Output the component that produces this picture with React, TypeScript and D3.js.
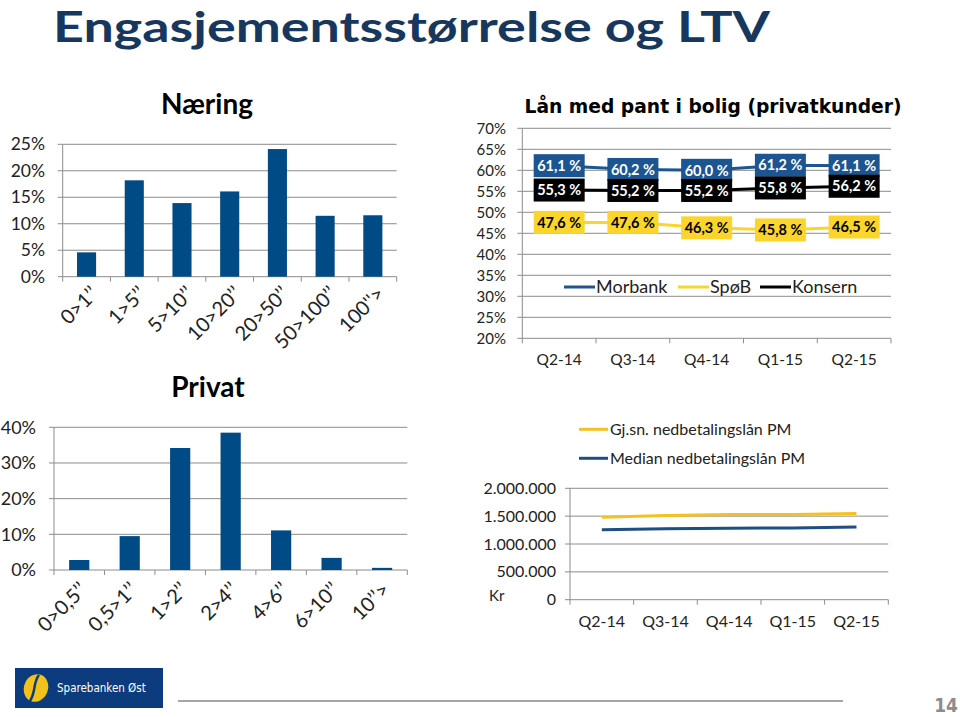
import React from "react";
import * as d3 from "d3";

const naeringCats = ["0>1\u2019\u2019", "1>5\u2019\u2019", "5>10\u2019\u2019", "10>20\u2019\u2019", "20>50\u2019\u2019", "50>100\u2019\u2019", "100''>"];
const naeringVals = [0.046, 0.182, 0.139, 0.161, 0.241, 0.115, 0.116];
const naeringTicks = [0, 0.05, 0.1, 0.15, 0.2, 0.25];

const privatCats = ["0>0,5\u2019\u2019", "0,5>1\u2019\u2019", "1>2\u2019\u2019", "2>4\u2019\u2019", "4>6\u2019\u2019", "6>10\u2019\u2019", "10\u2019\u2019>"];
const privatVals = [0.028, 0.095, 0.342, 0.385, 0.111, 0.034, 0.006];
const privatTicks = [0, 0.1, 0.2, 0.3, 0.4];

const quarters = ["Q2-14", "Q3-14", "Q4-14", "Q1-15", "Q2-15"];
const morbank = [61.1, 60.2, 60.0, 61.2, 61.1];
const spob = [47.6, 47.6, 46.3, 45.8, 46.5];
const konsern = [55.3, 55.2, 55.2, 55.8, 56.2];
const ltvTicks = [20, 25, 30, 35, 40, 45, 50, 55, 60, 65, 70];

const gjsnLoan = [1482000, 1510000, 1528000, 1530000, 1547000];
const medianLoan = [1254000, 1272000, 1285000, 1288000, 1307000];
const loanTicks = [0, 500000, 1000000, 1500000, 2000000];

const FONT = "Lato, 'Open Sans', sans-serif";
const NAVY = "#17375e";
const BAR = "#004a86";
const GRID = "#8c8c8c";
const BLUE = "#1c5591";
const YELLOW = "#fbd52c";

function BarChart({ cats, vals, ticks, x0, x1, y0, y1, labelX, tickFont, catFont, labelDX, labelY }) {
  const x = d3.scaleBand().domain(cats).range([x0, x1]).paddingInner(0.6).paddingOuter(0.3);
  const y = d3.scaleLinear().domain([0, ticks[ticks.length - 1]]).range([y0, y1]);
  const step = x.step();
  const fmt = d3.format(".0%");
  return (
    <g fontFamily={FONT}>
      {ticks.map((t) => (
        <g key={t}>
          <line x1={x0} x2={x1} y1={y(t)} y2={y(t)} stroke={GRID} strokeWidth={1} />
          <line x1={x0 - 5} x2={x0} y1={y(t)} y2={y(t)} stroke={GRID} strokeWidth={1} />
          <text x={labelX} y={y(t)} dy="0.35em" textAnchor="end" fontSize={tickFont} fill="#222">{fmt(t)}</text>
        </g>
      ))}
      <line x1={x0} x2={x0} y1={y(ticks[ticks.length - 1])} y2={y0} stroke={GRID} strokeWidth={1} />
      {d3.range(cats.length + 1).map((i) => (
        <line key={i} x1={x0 + i * step} x2={x0 + i * step} y1={y0} y2={y0 + 5} stroke={GRID} strokeWidth={1} />
      ))}
      {cats.map((c, i) => (
        <rect key={c} x={x(c)} y={y(vals[i])} width={x.bandwidth()} height={y0 - y(vals[i])} fill={BAR} />
      ))}
      {cats.map((c) => {
        const cx = (x(c) as number) + x.bandwidth() / 2;
        return (
          <text key={c} transform={`translate(${cx + labelDX},${labelY}) rotate(-45)`} textAnchor="end" dy="0.35em" fontSize={catFont} fill="#222">{c}</text>
        );
      })}
    </g>
  );
}

function LtvChart() {
  const x0 = 522.3, x1 = 891, y0 = 338.3, y1 = 128.3;
  const x = d3.scaleBand().domain(quarters).range([x0, x1]);
  const y = d3.scaleLinear().domain([20, 70]).range([y0, y1]);
  const cx = (q) => (x(q) as number) + x.bandwidth() / 2;
  const line = d3.line<number>().x((_, i) => cx(quarters[i])).y((d) => y(d));
  const series = [
    { name: "Morbank", vals: morbank, color: BLUE, text: "#fff" },
    { name: "SpøB", vals: spob, color: YELLOW, text: "#000" },
    { name: "Konsern", vals: konsern, color: "#000", text: "#fff" },
  ];
  const bw = 51, bh = 23;
  return (
    <g fontFamily={FONT}>
      <text x={713} y={113} textAnchor="middle" fontFamily="'DejaVu Sans', sans-serif" fontWeight="bold" fontSize={19} textLength={377} lengthAdjust="spacingAndGlyphs" fill="#000">Lån med pant i bolig (privatkunder)</text>
      {ltvTicks.map((t) => (
        <g key={t}>
          <line x1={x0} x2={x1} y1={y(t)} y2={y(t)} stroke={GRID} strokeWidth={1} />
          <line x1={x0 - 5} x2={x0} y1={y(t)} y2={y(t)} stroke={GRID} strokeWidth={1} />
          <text x={506} y={y(t)} dy="0.35em" textAnchor="end" fontSize={15} fill="#222">{t}%</text>
        </g>
      ))}
      <line x1={x0} x2={x0} y1={y1} y2={y0} stroke={GRID} strokeWidth={1} />
      {d3.range(quarters.length + 1).map((i) => (
        <line key={i} x1={x0 + i * x.step()} x2={x0 + i * x.step()} y1={y0} y2={y0 + 5} stroke={GRID} strokeWidth={1} />
      ))}
      {quarters.map((q) => (
        <text key={q} x={cx(q)} y={360} dy="0.35em" textAnchor="middle" fontSize={15.5} fill="#222">{q}</text>
      ))}
      {series.map((s) => (
        <path key={s.name} d={line(s.vals) as string} fill="none" stroke={s.color} strokeWidth={3} />
      ))}
      {series.map((s) =>
        s.vals.map((v, i) => (
          <g key={s.name + i} transform={`translate(${cx(quarters[i])},${y(v)})`}>
            <rect x={-bw / 2} y={-bh / 2} width={bw} height={bh} fill={s.color} />
            <text x={0} y={0} dy="0.36em" textAnchor="middle" fontSize={14.5} fontWeight="bold" fill={s.text}>{v.toFixed(1).replace(".", ",")} %</text>
          </g>
        ))
      )}
      {[
        { name: "Morbank", color: BLUE, lx: 564 },
        { name: "SpøB", color: YELLOW, lx: 678 },
        { name: "Konsern", color: "#000", lx: 760 },
      ].map((l) => (
        <g key={l.name}>
          <line x1={l.lx} x2={l.lx + 31} y1={287} y2={287} stroke={l.color} strokeWidth={3} />
          <text x={l.lx + 32} y={287} dy="0.35em" fontSize={18} fill="#222">{l.name}</text>
        </g>
      ))}
    </g>
  );
}

function LoanChart() {
  const x0 = 570, x1 = 888.3, y0 = 599.7, y1 = 488.3;
  const x = d3.scaleBand().domain(quarters).range([x0, x1]);
  const y = d3.scaleLinear().domain([0, 2000000]).range([y0, y1]);
  const cx = (q) => (x(q) as number) + x.bandwidth() / 2;
  const line = d3.line<number>().x((_, i) => cx(quarters[i])).y((d) => y(d));
  const fmt = (v) => d3.format(",")(v).replace(/,/g, ".");
  return (
    <g fontFamily={FONT}>
      {loanTicks.map((t) => (
        <g key={t}>
          <line x1={x0} x2={x1} y1={y(t)} y2={y(t)} stroke={GRID} strokeWidth={1} />
          <line x1={x0 - 5} x2={x0} y1={y(t)} y2={y(t)} stroke={GRID} strokeWidth={1} />
          <text x={556} y={y(t)} dy="0.35em" textAnchor="end" fontSize={16} fill="#222">{fmt(t)}</text>
        </g>
      ))}
      <text x={489} y={y(0)} dy="0.1em" fontSize={15} fill="#222">Kr</text>
      <line x1={x0} x2={x0} y1={y1} y2={y0} stroke={GRID} strokeWidth={1} />
      {d3.range(quarters.length + 1).map((i) => (
        <line key={i} x1={x0 + i * x.step()} x2={x0 + i * x.step()} y1={y0} y2={y0 + 5} stroke={GRID} strokeWidth={1} />
      ))}
      {quarters.map((q) => (
        <text key={q} x={cx(q)} y={621.5} dy="0.35em" textAnchor="middle" fontSize={16} fill="#222">{q}</text>
      ))}
      <path d={line(gjsnLoan) as string} fill="none" stroke="#f5c11e" strokeWidth={3} />
      <path d={line(medianLoan) as string} fill="none" stroke="#1f4e84" strokeWidth={3} />
      {[
        { name: "Gj.sn. nedbetalingslån PM", color: "#f5c11e", ly: 429.3 },
        { name: "Median nedbetalingslån PM", color: "#1f4e84", ly: 458.3 },
      ].map((l) => (
        <g key={l.name}>
          <line x1={579} x2={608} y1={l.ly} y2={l.ly} stroke={l.color} strokeWidth={3} />
          <text x={610} y={l.ly} dy="0.35em" fontSize={16} fill="#222">{l.name}</text>
        </g>
      ))}
    </g>
  );
}

export default function App() {
  return (
    <svg width={960} height={717} style={{ position: "absolute", left: 0, top: 0, background: "#fff" }}>
      <rect width={960} height={717} fill="#fff" />
      <text x={53} y={42} fontFamily={FONT} fontWeight="bold" fontSize={42} fill={NAVY} textLength={717} lengthAdjust="spacingAndGlyphs">Engasjementsstørrelse og LTV</text>
      <text x={207} y={114} textAnchor="middle" fontFamily={FONT} fontWeight="bold" fontSize={28} fill="#000">Næring</text>
      <text x={208} y={397} textAnchor="middle" fontFamily={FONT} fontWeight="bold" fontSize={28} fill="#000">Privat</text>
      <BarChart cats={naeringCats} vals={naeringVals} ticks={naeringTicks} x0={62.7} x1={396.7} y0={276.7} y1={144.3} labelX={45} tickFont={17.5} catFont={20} labelDX={8} labelY={290} />
      <BarChart cats={privatCats} vals={privatVals} ticks={privatTicks} x0={54} x1={407.3} y0={570} y1={427.3} labelX={36} tickFont={18} catFont={20} labelDX={4} labelY={586} />
      <LtvChart />
      <LoanChart />
      <g>
        <rect x={15} y={668} width={148} height={40} fill="#0c3c7d" />
        <ellipse cx={36} cy={688} rx={12} ry={14} fill="#f2c21b" transform="rotate(20,36,688)" />
        <path d="M39,675 C33,682 36,692 30,701" stroke="#0c3c7d" strokeWidth={2.5} fill="none" />
        <text x={57} y={692} fontFamily="'DejaVu Sans Condensed', 'DejaVu Sans', sans-serif" fontSize={11.5} fill="#fff">Sparebanken Øst</text>
        <line x1={178} x2={843} y1={701} y2={701} stroke="#a6a6a6" strokeWidth={2} />
        <text x={958} y={712} textAnchor="end" fontFamily="'DejaVu Sans Condensed', sans-serif" fontWeight="bold" fontSize={19} fill="#8c8c8c">14</text>
      </g>
    </svg>
  );
}
